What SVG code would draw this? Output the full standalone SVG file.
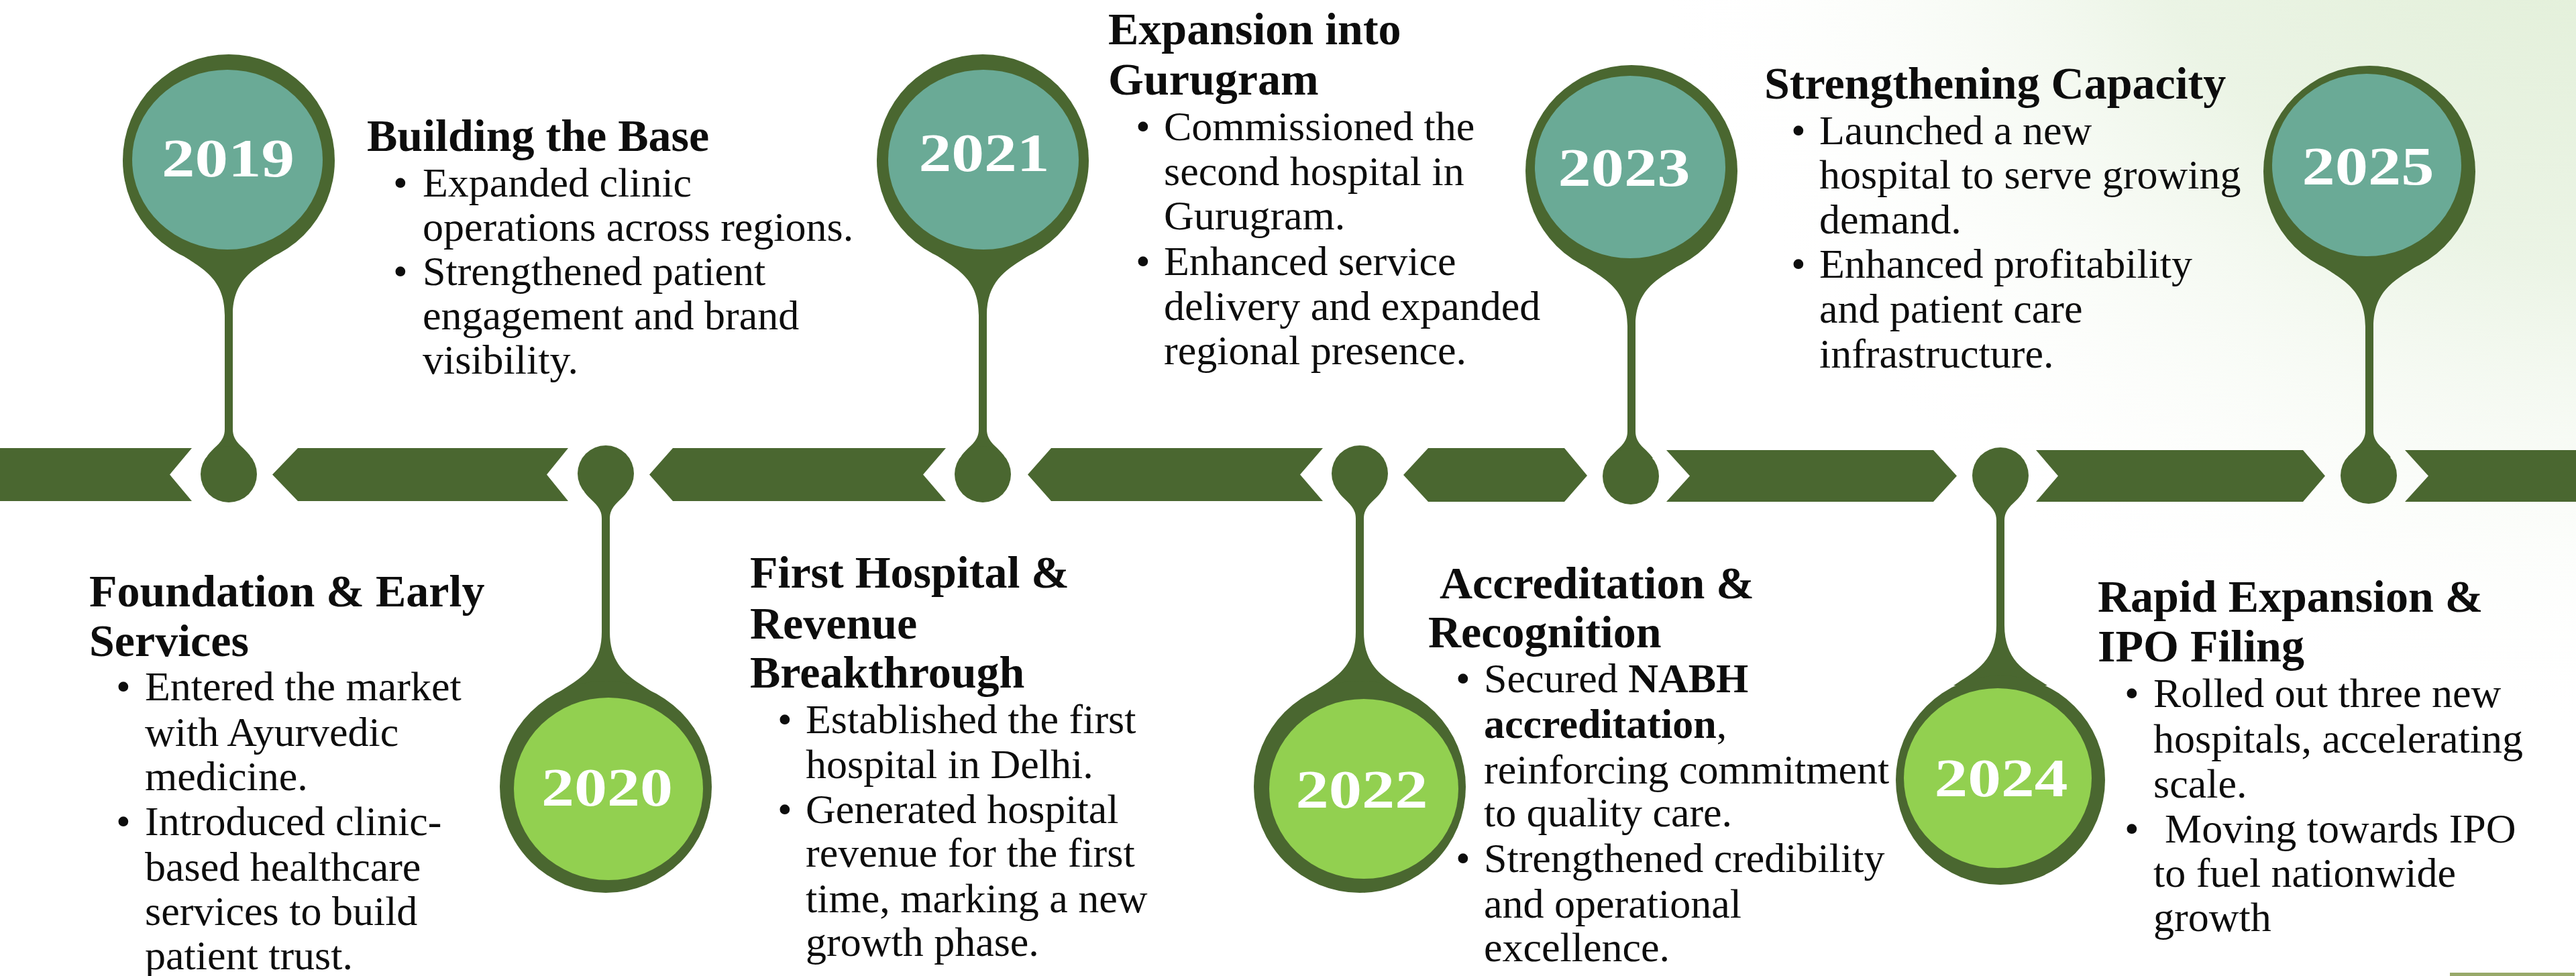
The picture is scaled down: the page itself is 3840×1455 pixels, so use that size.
<svg xmlns="http://www.w3.org/2000/svg" width="3840" height="1455" viewBox="0 0 3840 1455">
<defs>
<radialGradient id="bg" gradientUnits="userSpaceOnUse" cx="3950" cy="-450" r="1550">
<stop offset="0" stop-color="#dcecd0"/>
<stop offset="0.55" stop-color="#ebf4e5"/>
<stop offset="1" stop-color="#ffffff" stop-opacity="0"/>
</radialGradient>
<style>
.dk{fill:#4a6730}
.teal{fill:#6aaa96}
.lg{fill:#92d050}
.yr{font-family:"Liberation Serif",serif;font-weight:bold;font-size:80px;fill:#ffffff;text-anchor:middle}
.ti{font-family:"Liberation Serif",serif;font-weight:bold;font-size:68px;fill:#0d0d0d}
.bd{font-family:"Liberation Serif",serif;font-size:62px;fill:#0d0d0d}
.b{font-weight:bold}
</style>
</defs>
<rect x="0" y="0" width="3840" height="1455" fill="#ffffff"/>
<rect x="0" y="0" width="3840" height="1455" fill="url(#bg)"/>
<rect x="3652" y="1450" width="186" height="5" fill="#98a96a"/>

<g id="connectors" class="dk">
<polygon points="0,668 286,668 253,707.5 286,747 0,747"/>
<polygon points="444,668 847,668 815,707.5 847,747 444,747 406,707.5"/>
<polygon points="1003,668 1410,668 1376,707.5 1410,747 1003,747 968,707.5"/>
<polygon points="1567,668 1972,668 1938,707.5 1972,747 1567,747 1532,707.5"/>
<polygon points="2129,668 2332,668 2366,709 2332,748 2129,748 2092,708"/>
<polygon points="2484,671 2882,671 2917,709.5 2882,748 2484,748 2519,709.5"/>
<polygon points="3035,671 3433,671 3466,709.5 3433,748 3035,748 3068,709.5"/>
<polygon points="3585,671 3840,671 3840,748 3585,748 3620,709.5"/>
</g>

<g id="sec-2019">
<text class="ti" x="547" y="225">Building the Base</text>
<text class="bd" x="586" y="293">•</text>
<text class="bd" x="630" y="293">Expanded clinic</text>
<text class="bd" x="630" y="359">operations across regions.</text>
<text class="bd" x="586" y="425">•</text>
<text class="bd" x="630" y="425">Strengthened patient</text>
<text class="bd" x="630" y="491">engagement and brand</text>
<text class="bd" x="630" y="557">visibility.</text>
</g>

<g id="sec-2021">
<text class="ti" x="1652" y="66">Expansion into</text>
<text class="ti" x="1652" y="141">Gurugram</text>
<text class="bd" x="1693" y="209">•</text>
<text class="bd" x="1735" y="209">Commissioned the</text>
<text class="bd" x="1735" y="276">second hospital in</text>
<text class="bd" x="1735" y="342">Gurugram.</text>
<text class="bd" x="1693" y="410">•</text>
<text class="bd" x="1735" y="410">Enhanced service</text>
<text class="bd" x="1735" y="477">delivery and expanded</text>
<text class="bd" x="1735" y="543">regional presence.</text>
</g>

<g id="sec-2023">
<text class="ti" x="2630" y="147">Strengthening Capacity</text>
<text class="bd" x="2670" y="215">•</text>
<text class="bd" x="2712" y="215">Launched a new</text>
<text class="bd" x="2712" y="281">hospital to serve growing</text>
<text class="bd" x="2712" y="348">demand.</text>
<text class="bd" x="2670" y="414">•</text>
<text class="bd" x="2712" y="414">Enhanced profitability</text>
<text class="bd" x="2712" y="481">and patient care</text>
<text class="bd" x="2712" y="548">infrastructure.</text>
</g>

<g id="sec-2020">
<text class="ti" x="133" y="904">Foundation &amp; Early</text>
<text class="ti" x="133" y="978">Services</text>
<text class="bd" x="173" y="1044">•</text>
<text class="bd" x="216" y="1044">Entered the market</text>
<text class="bd" x="216" y="1112">with Ayurvedic</text>
<text class="bd" x="216" y="1178">medicine.</text>
<text class="bd" x="173" y="1245">•</text>
<text class="bd" x="216" y="1245">Introduced clinic-</text>
<text class="bd" x="216" y="1313">based healthcare</text>
<text class="bd" x="216" y="1379">services to build</text>
<text class="bd" x="216" y="1445">patient trust.</text>
</g>

<g id="sec-2021b">
<text class="ti" x="1118" y="876">First Hospital &amp;</text>
<text class="ti" x="1118" y="952">Revenue</text>
<text class="ti" x="1118" y="1025">Breakthrough</text>
<text class="bd" x="1159" y="1093">•</text>
<text class="bd" x="1201" y="1093">Established the first</text>
<text class="bd" x="1201" y="1160">hospital in Delhi.</text>
<text class="bd" x="1159" y="1227">•</text>
<text class="bd" x="1201" y="1227">Generated hospital</text>
<text class="bd" x="1201" y="1292">revenue for the first</text>
<text class="bd" x="1201" y="1360">time, marking a new</text>
<text class="bd" x="1201" y="1425">growth phase.</text>
</g>

<g id="sec-2022">
<text class="ti" x="2146" y="892">Accreditation &amp;</text>
<text class="ti" x="2129" y="965">Recognition</text>
<text class="bd" x="2170" y="1032">•</text>
<text class="bd" x="2212" y="1032">Secured <tspan class="b">NABH</tspan></text>
<text class="bd" x="2212" y="1100"><tspan class="b">accreditation</tspan>,</text>
<text class="bd" x="2212" y="1168">reinforcing commitment</text>
<text class="bd" x="2212" y="1232">to quality care.</text>
<text class="bd" x="2170" y="1300">•</text>
<text class="bd" x="2212" y="1300">Strengthened credibility</text>
<text class="bd" x="2212" y="1368">and operational</text>
<text class="bd" x="2212" y="1433">excellence.</text>
</g>

<g id="sec-2024">
<text class="ti" x="3127" y="912">Rapid Expansion &amp;</text>
<text class="ti" x="3127" y="986">IPO Filing</text>
<text class="bd" x="3167" y="1054">•</text>
<text class="bd" x="3210" y="1054">Rolled out three new</text>
<text class="bd" x="3210" y="1122">hospitals, accelerating</text>
<text class="bd" x="3210" y="1189">scale.</text>
<text class="bd" x="3167" y="1256">•</text>
<text class="bd" x="3227" y="1256">Moving towards IPO</text>
<text class="bd" x="3210" y="1322">to fuel nationwide</text>
<text class="bd" x="3210" y="1388">growth</text>
</g>

<g id="pin-2019" class="dk">
<circle cx="341" cy="239" r="158"/>
<path d="M271,380 C301,400 335,415 335,470 L347,470 C347,415 381,400 411,380 Z"/>
<rect x="335" y="462" width="12" height="185"/>
<path d="M335,640 C335,660 319,665 309,680 L373,680 C363,665 347,660 347,640 Z"/>
<circle cx="341" cy="707" r="42"/>
<ellipse class="teal" cx="339" cy="238" rx="142" ry="134"/>
<text class="yr" x="340" y="263" textLength="198" lengthAdjust="spacingAndGlyphs">2019</text>
</g>

<g id="pin-2021" class="dk">
<circle cx="1465" cy="239" r="158"/>
<path d="M1395,380 C1425,400 1459,415 1459,470 L1471,470 C1471,415 1505,400 1535,380 Z"/>
<rect x="1459" y="462" width="12" height="185"/>
<path d="M1459,640 C1459,660 1443,665 1433,680 L1497,680 C1487,665 1471,660 1471,640 Z"/>
<circle cx="1465" cy="707" r="42"/>
<ellipse class="teal" cx="1466" cy="238" rx="142" ry="134"/>
<text class="yr" x="1467" y="255" textLength="195" lengthAdjust="spacingAndGlyphs">2021</text>
</g>

<g id="pin-2023" class="dk">
<circle cx="2432" cy="255" r="158"/>
<path d="M2362,396 C2392,416 2426,431 2426,486 L2438,486 C2438,431 2472,416 2502,396 Z"/>
<rect x="2426" y="478" width="12" height="172"/>
<path d="M2426,643 C2426,663 2410,668 2400,683 L2464,683 C2454,668 2438,663 2438,643 Z"/>
<circle cx="2431" cy="710" r="42"/>
<ellipse class="teal" cx="2430" cy="249" rx="142" ry="136"/>
<text class="yr" x="2421" y="277" textLength="197" lengthAdjust="spacingAndGlyphs">2023</text>
</g>

<g id="pin-2025" class="dk">
<circle cx="3532" cy="256" r="158"/>
<path d="M3462,397 C3492,417 3526,432 3526,487 L3538,487 C3538,432 3572,417 3602,397 Z"/>
<rect x="3526" y="479" width="12" height="172"/>
<path d="M3526,642 C3526,662 3510,667 3500,682 L3564,682 C3554,667 3538,662 3538,642 Z"/>
<circle cx="3531" cy="709" r="42"/>
<ellipse class="teal" cx="3528" cy="246" rx="141" ry="136"/>
<text class="yr" x="3530" y="275" textLength="197" lengthAdjust="spacingAndGlyphs">2025</text>
</g>

<g id="pin-2020" class="dk">
<circle cx="903" cy="706" r="42"/>
<path d="M871,733 C881,748 897,753 897,773 L909,773 C909,753 925,748 935,733 Z"/>
<rect x="897" y="765" width="12" height="185"/>
<path d="M897,942 C897,997 863,1012 833,1032 L973,1032 C943,1012 909,997 909,942 Z"/>
<circle cx="903" cy="1173" r="158"/>
<ellipse class="lg" cx="907" cy="1176" rx="141" ry="136"/>
<text class="yr" x="905" y="1201" textLength="196" lengthAdjust="spacingAndGlyphs">2020</text>
</g>

<g id="pin-2022" class="dk">
<circle cx="2027" cy="706" r="42"/>
<path d="M1995,733 C2005,748 2021,753 2021,773 L2033,773 C2033,753 2049,748 2059,733 Z"/>
<rect x="2021" y="765" width="12" height="185"/>
<path d="M2021,942 C2021,997 1987,1012 1957,1032 L2097,1032 C2067,1012 2033,997 2033,942 Z"/>
<circle cx="2027" cy="1173" r="158"/>
<ellipse class="lg" cx="2033" cy="1176" rx="141" ry="134"/>
<text class="yr" x="2030" y="1204" textLength="197" lengthAdjust="spacingAndGlyphs">2022</text>
</g>

<g id="pin-2024" class="dk">
<circle cx="2982" cy="709" r="42"/>
<path d="M2950,736 C2960,751 2976,756 2976,776 L2988,776 C2988,756 3004,751 3014,736 Z"/>
<rect x="2976" y="768" width="12" height="170"/>
<path d="M2976,932 C2976,987 2942,1002 2912,1022 L3052,1022 C3022,1002 2988,987 2988,932 Z"/>
<circle cx="2982" cy="1163" r="156"/>
<ellipse class="lg" cx="2978" cy="1160" rx="140" ry="134"/>
<text class="yr" x="2983" y="1187" textLength="199" lengthAdjust="spacingAndGlyphs">2024</text>
</g>
</svg>
